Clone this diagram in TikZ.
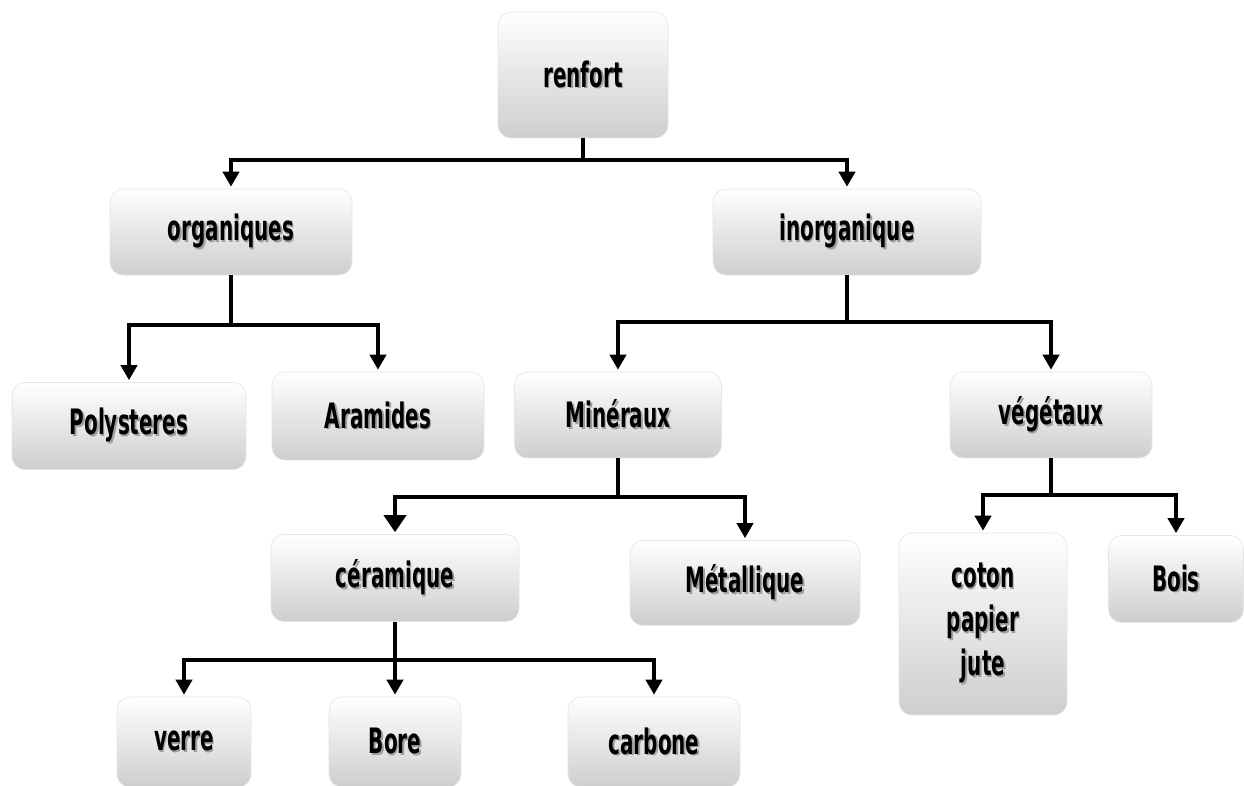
\documentclass[tikz,border=0pt]{standalone}
\usepackage{fontspec}
\setmainfont{DejaVu Sans}[FakeStretch=0.57]
\usetikzlibrary{arrows.meta}
\definecolor{boxbot}{RGB}{206,206,206}
% label with a soft drop shadow
\newcommand\shd[1]{\rlap{\kern1.6pt\raisebox{-1.6pt}{\textcolor{black!38}{#1}}}#1}

\begin{document}
\begin{tikzpicture}[x=1pt,y=-1pt,
  box/.style={rounded corners=13pt, top color=white, bottom color=boxbot,
    draw=black!10, line width=0.6pt, inner sep=0pt,
    font=\bfseries\fontsize{35}{44}\selectfont, text=black, align=center},
  conn/.style={line width=3.8pt, -{Triangle[width=16pt,length=15pt]}, shorten >=2pt},
  bigconn/.style={line width=3.8pt, -{Triangle[width=22pt,length=17pt]}, shorten >=2pt}]

\useasboundingbox (0,0) rectangle (1244,785);
\fill[white] (0,0) rectangle (1244,785);

% boxes
\node[box, minimum width=170pt, minimum height=126pt] (renfort) at (583,75) {\shd{renfort}};
\node[box, minimum width=242pt, minimum height=86pt] (org) at (231,232) {\shd{organiques}};
\node[box, minimum width=268pt, minimum height=86pt] (inorg) at (847,232) {\shd{inorganique}};
\node[box, minimum width=234pt, minimum height=87pt] (poly) at (129,426) {\shd{Polysteres}};
\node[box, minimum width=212pt, minimum height=88pt] (aram) at (378,416) {\shd{Aramides}};
\node[box, minimum width=207pt, minimum height=86pt] (min) at (618,415) {\shd{Minéraux}};
\node[box, minimum width=202pt, minimum height=86pt] (veg) at (1051,415) {\shd{végétaux}};
\node[box, minimum width=248pt, minimum height=87pt] (cer) at (395,578) {\shd{céramique}};
\node[box, minimum width=230pt, minimum height=85pt] (met) at (745,583) {\shd{Métallique}};
\node[box, minimum width=168pt, minimum height=182pt] (coton) at (983,624) {\shd{coton}\\\shd{papier}\\\shd{jute}};
\node[box, minimum width=135pt, minimum height=87pt] (bois) at (1176,579) {\shd{Bois}};
\node[box, minimum width=134pt, minimum height=90pt] (verre) at (184,742) {\shd{verre}};
\node[box, minimum width=132pt, minimum height=90pt] (bore) at (395,742) {\shd{Bore}};
\node[box, minimum width=172pt, minimum height=90pt] (carb) at (654,742) {\shd{carbone}};

% connectors
\draw[conn] (renfort.south) -- ++(0,22) -| (org.north);
\draw[conn] (renfort.south) -- ++(0,22) -| (inorg.north);
\draw[conn] (org.south) -- ++(0,50) -| (poly.north);
\draw[conn] (org.south) -- ++(0,50) -| (aram.north);
\draw[conn] (inorg.south) -- ++(0,47) -| (min.north);
\draw[conn] (inorg.south) -- ++(0,47) -| (veg.north);
\draw[bigconn] (min.south) -- ++(0,39) -| (cer.north);
\draw[conn] (min.south) -- ++(0,39) -| (met.north);
\draw[conn] (veg.south) -- ++(0,37) -| (coton.north);
\draw[conn] (veg.south) -- ++(0,37) -| (bois.north);
\draw[conn] (cer.south) -- ++(0,38) -| (verre.north);
\draw[conn] (cer.south) -- (bore.north);
\draw[conn] (cer.south) -- ++(0,38) -| (carb.north);
\end{tikzpicture}
\end{document}
